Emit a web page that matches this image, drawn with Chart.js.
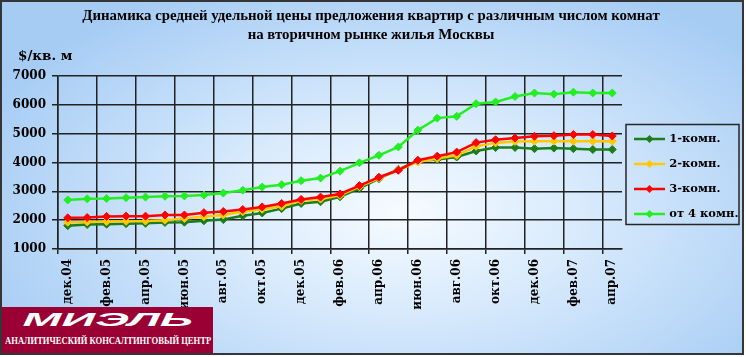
<!DOCTYPE html>
<html>
<head>
<meta charset="utf-8">
<script src="https://cdn.jsdelivr.net/npm/chart.js@4.4.1/dist/chart.umd.min.js"></script>
<style>
  html, body { margin:0; padding:0; background:#ffffff; }
  #frame {
    position:absolute; left:0; top:0; width:744px; height:355px; box-sizing:border-box;
    border:2px solid #353535;
    background: radial-gradient(ellipse 62% 72% at 54% 60%, #f6fbff 0%, #d6e9fc 42%, #a6ccf4 100%);
  }
  #c { position:absolute; left:0; top:0; }
  #logo { position:absolute; left:2px; top:307px; width:211px; height:46px; background:#9a0033; overflow:hidden; }
  #brand { position:absolute; left:0; top:2px; width:211px; text-align:center; color:#fff; font:italic bold 18px 'Liberation Sans', sans-serif; line-height:22px; }
  #brand span { display:inline-block; transform:scaleX(2.6); transform-origin:center; }
  #tag { position:absolute; left:3px; top:28px; white-space:nowrap; color:#fff; font:bold 9.5px 'Liberation Serif', serif; line-height:12px; transform-origin:0 0; }
</style>
</head>
<body>
<div id="frame"></div>
<canvas id="c" width="746" height="357"></canvas>
<div id="logo"><div id="brand"><span>МИЭЛЬ</span></div><div id="tag">АНАЛИТИЧЕСКИЙ КОНСАЛТИНГОВЫЙ ЦЕНТР</div></div>
<script>
const titleLines = ['Динамика средней удельной цены предложения квартир с различным числом комнат', 'на вторичном рынке жилья Москвы'];
const unitLabel = '$/кв. м';
const months = ['дек.04','янв.05','фев.05','мар.05','апр.05','май.05','июн.05','июл.05','авг.05','сен.05','окт.05','ноя.05','дек.05','янв.06','фев.06','мар.06','апр.06','май.06','июн.06','июл.06','авг.06','сен.06','окт.06','ноя.06','дек.06','янв.07','фев.07','мар.07','апр.07'];
const seriesNames = ['1-комн.', '2-комн.', '3-комн.', 'от 4 комн.'];
const room1 = [1810,1850,1860,1880,1890,1920,1930,1980,2020,2150,2250,2400,2580,2640,2810,3100,3440,3760,4050,4100,4190,4400,4520,4520,4480,4500,4480,4450,4450];
const room2 = [1930,1940,1950,1960,1970,2000,2060,2120,2180,2290,2380,2480,2680,2730,2860,3160,3460,3740,4020,4140,4250,4560,4680,4730,4740,4740,4740,4740,4740];
const room3 = [2080,2090,2130,2140,2140,2180,2180,2260,2300,2370,2460,2580,2720,2800,2910,3200,3490,3730,4080,4220,4360,4690,4790,4850,4910,4930,4970,4970,4920];
const room4 = [2700,2740,2750,2780,2800,2830,2840,2870,2940,3040,3150,3230,3370,3460,3700,3990,4250,4540,5120,5540,5600,6040,6100,6290,6410,6370,6440,6410,6410];
const yTicks = [1000,2000,3000,4000,5000,6000,7000];

const colors = ['#1b7d1b', '#ffc800', '#ff0000', '#22ee22'];
const allSeries = [room1, room2, room3, room4];
const serif = "'DejaVu Serif', serif";
const times = "'Liberation Serif', serif";

const mctx = document.createElement('canvas').getContext('2d');
function fitSize(text, font, target) { mctx.font = font.replace('{S}', '40px'); return 40 * target / mctx.measureText(text).width; }
const TITLE_SIZE = fitSize(titleLines[0], 'bold {S} ' + times, 578);
const TITLE_LH = 19;

(function () { const t = document.getElementById('tag'); const w = t.scrollWidth; t.style.transform = 'scaleX(' + (206 / w) + ')'; })();

function makeIcon(color) {
  const c = document.createElement('canvas');
  c.width = 31; c.height = 10;
  const g = c.getContext('2d');
  g.strokeStyle = color; g.lineWidth = 2.5;
  g.beginPath(); g.moveTo(0, 5); g.lineTo(31, 5); g.stroke();
  g.fillStyle = color;
  g.beginPath(); g.moveTo(15.5, 1); g.lineTo(19.5, 5); g.lineTo(15.5, 9); g.lineTo(11.5, 5); g.closePath(); g.fill();
  return c;
}
const icons = colors.map(makeIcon);
const LEG_FONT = 11.5, LEG_PAD = 13.5, LEG_SHIFT = -2;

const extras = {
  id: 'extras',
  afterUpdate(chart) {
    const l = chart.legend; if (!l) return;
    l.top += LEG_SHIFT; l.bottom += LEG_SHIFT;
    if (l.adjustHitBoxes) l.adjustHitBoxes();
  },
  afterDraw(chart) {
    const ctx = chart.ctx;
    const l = chart.legend;
    ctx.save();
    if (l) {
      const colH = l.columnSizes && l.columnSizes[0] ? l.columnSizes[0].height : 4 * (LEG_FONT + LEG_PAD);
      const y0 = (l.top + LEG_PAD + l.bottom - colH) / 2;
      const c0 = y0 + LEG_FONT / 2;
      const c3 = c0 + 3 * (LEG_FONT + LEG_PAD);
      ctx.strokeStyle = '#262626'; ctx.lineWidth = 1.5;
      ctx.strokeRect(l.left + 4, c0 - 14.5, 113, (c3 + 10.5) - (c0 - 14.5));
    }
    ctx.fillStyle = '#000';
    ctx.font = 'bold 13.5px ' + serif;
    ctx.textBaseline = 'middle';
    ctx.fillText(unitLabel, 18, 56);
    ctx.restore();
  }
};

function buildConfig(v) {
  const ds = allSeries.map((d, i) => {
    const o = { label: seriesNames[i], data: d, borderColor: colors[i], borderWidth: 2.5 };
    if (!v.noPointOpts) Object.assign(o, { pointStyle: 'rectRot', pointRadius: 4, pointBorderWidth: 1, pointBackgroundColor: colors[i], pointBorderColor: colors[i] });
    if (!v.noMisc) Object.assign(o, { backgroundColor: colors[i], tension: 0, fill: false, order: 4 - i });
    return o;
  });
  const legendLabels = {
    usePointStyle: true, pointStyleWidth: 28, padding: LEG_PAD, color: '#000',
    font: { family: serif, size: LEG_FONT, weight: 'bold' },
    sort: (a, b) => a.datasetIndex - b.datasetIndex
  };
  if (!v.noGen) legendLabels.generateLabels = function (chart) {
    const items = Chart.defaults.plugins.legend.labels.generateLabels(chart);
    items.forEach(it => { it.pointStyle = icons[it.datasetIndex]; it.lineWidth = 0; });
    return items;
  };
  const gz = v.zTop ? 1 : undefined;
  return {
    type: 'line',
    data: { labels: months, datasets: ds },
    options: {
      responsive: false, animation: false, devicePixelRatio: 1,
      layout: { padding: { left: 2, right: 6, top: 0, bottom: 0 } },
      plugins: {
        tooltip: { enabled: false },
        title: { display: true, text: titleLines, color: '#000',
          font: { family: times, size: TITLE_SIZE, weight: 'bold', lineHeight: TITLE_LH / TITLE_SIZE },
          padding: { top: 6.5, bottom: 76 - 6.5 - 2 * TITLE_LH } },
        legend: { position: 'right', maxWidth: 118, labels: legendLabels }
      },
      scales: {
        x: {
          type: 'category', offset: true,
          afterFit: s => { s.height = 108; },
          grid: { offset: true, drawOnChartArea: true, lineWidth: 1.5, tickLength: 5, z: gz,
            color: ctx => (ctx.index % 2 === 0 || ctx.index === months.length) ? '#222' : 'rgba(0,0,0,0)',
            tickColor: ctx => (ctx.index % 2 === 0 && ctx.index < months.length) ? '#222' : 'rgba(0,0,0,0)' },
          border: { display: true, color: '#222', width: 1.5, z: gz },
          ticks: { autoSkip: false, maxRotation: 90, minRotation: 90, padding: 5, color: '#000',
            font: { family: serif, size: 12, weight: 'bold' },
            callback: function (val, i) { return i % 2 === 0 ? months[i] : ''; } }
        },
        y: {
          min: yTicks[0], max: yTicks[yTicks.length - 1],
          afterFit: s => { s.width = 56; },
          afterBuildTicks: s => { s.ticks = yTicks.map(t => ({ value: t })); },
          grid: { color: '#222', lineWidth: 1.5, tickLength: 6, z: gz },
          border: { display: true, color: '#222', width: 1.5, z: gz },
          ticks: { padding: 6, color: '#000', font: { family: serif, size: 12, weight: 'bold' }, callback: t => String(t) }
        }
      }
    },
    plugins: v.noExtras ? [] : [extras]
  };
}

// off-screen warm-up renders (kept: they make the visible chart render reliably)
const warmups = [{}, { noMisc: true }, { noPointOpts: true }, { zTop: true }, { noExtras: true }, { noGen: true }];
for (const v of warmups) {
  const cv = document.createElement('canvas'); cv.width = 746; cv.height = 357;
  cv.style.cssText = 'position:absolute;left:-3000px;top:0;';
  document.body.appendChild(cv);
  try { const ch = new Chart(cv, buildConfig(v)); ch.destroy(); } catch (e) {}
  cv.remove();
}
new Chart(document.getElementById('c'), buildConfig({}));
</script>
</body>
</html>
